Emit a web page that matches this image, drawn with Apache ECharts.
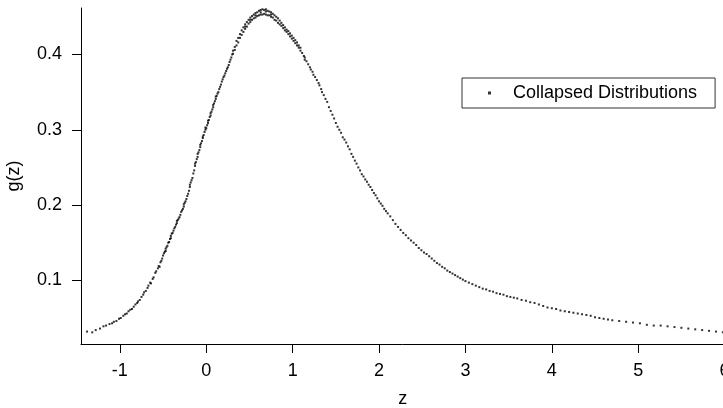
<!DOCTYPE html>
<html>
<head>
<meta charset="utf-8">
<script src="https://cdn.jsdelivr.net/npm/echarts@6/dist/echarts.min.js"></script>
<style>
  html, body { margin: 0; padding: 0; background: #fff; }
  #chart { width: 723px; height: 408px; }
</style>
</head>
<body>
<div id="chart"></div>
<script>
// points, [z, g(z)], grouped by part of the curve
const leftTail = [
  [-1.38, 0.032], [-1.32, 0.031], [-1.28, 0.034], [-1.23, 0.036], [-1.19, 0.039],
  [-1.16, 0.040], [-1.12, 0.042], [-1.09, 0.043], [-1.07, 0.045], [-1.04, 0.046],
  [-1.01, 0.049], [-0.99, 0.050], [-0.96, 0.053], [-0.94, 0.055], [-0.92, 0.056],
  [-0.90, 0.059], [-0.88, 0.061], [-0.86, 0.062], [-0.84, 0.065], [-0.82, 0.068],
  [-0.80, 0.070], [-0.79, 0.072], [-0.77, 0.074], [-0.75, 0.078], [-0.73, 0.081],
  [-0.72, 0.084], [-0.70, 0.086], [-0.68, 0.090], [-0.67, 0.093], [-0.65, 0.097],
  [-0.64, 0.096], [-0.62, 0.102], [-0.61, 0.104], [-0.59, 0.110], [-0.58, 0.112]
]
const rise = [
  [-0.56, 0.116], [-0.55, 0.119], [-0.54, 0.118], [-0.53, 0.124], [-0.52, 0.126],
  [-0.51, 0.129], [-0.50, 0.133], [-0.49, 0.136], [-0.48, 0.138], [-0.47, 0.142],
  [-0.47, 0.139], [-0.46, 0.144], [-0.45, 0.146], [-0.44, 0.150], [-0.43, 0.151],
  [-0.42, 0.155], [-0.41, 0.159], [-0.41, 0.156], [-0.40, 0.162], [-0.39, 0.163],
  [-0.38, 0.166], [-0.37, 0.169], [-0.36, 0.171], [-0.35, 0.174], [-0.34, 0.176],
  [-0.34, 0.179], [-0.33, 0.180], [-0.32, 0.182], [-0.31, 0.184], [-0.30, 0.187],
  [-0.29, 0.191], [-0.28, 0.193], [-0.27, 0.195], [-0.26, 0.198], [-0.26, 0.201],
  [-0.25, 0.203], [-0.24, 0.205], [-0.23, 0.208], [-0.22, 0.212], [-0.21, 0.215],
  [-0.20, 0.219], [-0.19, 0.224], [-0.19, 0.227], [-0.18, 0.230], [-0.17, 0.233],
  [-0.16, 0.236], [-0.15, 0.242], [-0.14, 0.246], [-0.13, 0.252], [-0.13, 0.255],
  [-0.12, 0.257], [-0.11, 0.261], [-0.10, 0.264], [-0.10, 0.268], [-0.09, 0.270],
  [-0.08, 0.273], [-0.07, 0.277], [-0.07, 0.280], [-0.06, 0.282], [-0.05, 0.285],
  [-0.04, 0.289], [-0.04, 0.291], [-0.03, 0.293], [-0.02, 0.297], [-0.01, 0.300],
  [-0.01, 0.303], [0.00, 0.302], [0.01, 0.306], [0.02, 0.309], [0.02, 0.312],
  [0.03, 0.313], [0.04, 0.317], [0.05, 0.319], [0.05, 0.322], [0.06, 0.324],
  [0.07, 0.327], [0.08, 0.330], [0.08, 0.333], [0.09, 0.335], [0.10, 0.338],
  [0.11, 0.341], [0.11, 0.344], [0.12, 0.345], [0.13, 0.348], [0.14, 0.350],
  [0.15, 0.354], [0.16, 0.357], [0.17, 0.360], [0.18, 0.364], [0.19, 0.367],
  [0.20, 0.370], [0.21, 0.372], [0.22, 0.375], [0.23, 0.378], [0.24, 0.381],
  [0.25, 0.383], [0.26, 0.386], [0.27, 0.390], [0.28, 0.393], [0.29, 0.396],
  [0.30, 0.400]
]
const peak = [
  [0.31, 0.401], [0.31, 0.405], [0.33, 0.406], [0.33, 0.410], [0.35, 0.412],
  [0.35, 0.418], [0.37, 0.416], [0.37, 0.422], [0.39, 0.422], [0.39, 0.427],
  [0.41, 0.426], [0.41, 0.432], [0.43, 0.430], [0.43, 0.436], [0.45, 0.434],
  [0.45, 0.440], [0.45, 0.437], [0.47, 0.437], [0.47, 0.443], [0.49, 0.441],
  [0.49, 0.446], [0.51, 0.443], [0.51, 0.449], [0.51, 0.446], [0.53, 0.446],
  [0.53, 0.451], [0.55, 0.448], [0.55, 0.453], [0.57, 0.449], [0.57, 0.455],
  [0.57, 0.452], [0.59, 0.451], [0.59, 0.456], [0.61, 0.452], [0.61, 0.458],
  [0.63, 0.453], [0.63, 0.459], [0.63, 0.456], [0.65, 0.453], [0.65, 0.460],
  [0.67, 0.454], [0.67, 0.459], [0.69, 0.453], [0.69, 0.460], [0.69, 0.457],
  [0.71, 0.452], [0.71, 0.458], [0.73, 0.452], [0.73, 0.457], [0.75, 0.450],
  [0.75, 0.456], [0.75, 0.453], [0.77, 0.449], [0.77, 0.454], [0.79, 0.446],
  [0.79, 0.452], [0.81, 0.445], [0.81, 0.450], [0.83, 0.442], [0.83, 0.448],
  [0.85, 0.440], [0.85, 0.445], [0.87, 0.438], [0.87, 0.442], [0.89, 0.435],
  [0.89, 0.439], [0.91, 0.432], [0.91, 0.436], [0.93, 0.430], [0.93, 0.433],
  [0.95, 0.427], [0.95, 0.431], [0.97, 0.424], [0.97, 0.428], [0.99, 0.421],
  [0.99, 0.425], [1.01, 0.418], [1.01, 0.422], [1.03, 0.415], [1.03, 0.419],
  [1.05, 0.412], [1.05, 0.416], [1.07, 0.409], [1.07, 0.412], [1.09, 0.405],
  [1.09, 0.409]
]
const fall = [
  [1.11, 0.402], [1.13, 0.398], [1.14, 0.396], [1.14, 0.393], [1.16, 0.391],
  [1.18, 0.387], [1.20, 0.383], [1.21, 0.380], [1.23, 0.377], [1.24, 0.373],
  [1.26, 0.370], [1.28, 0.366], [1.30, 0.362], [1.31, 0.359], [1.33, 0.354],
  [1.34, 0.350], [1.36, 0.346], [1.38, 0.341], [1.40, 0.337], [1.42, 0.330],
  [1.44, 0.325], [1.46, 0.320], [1.48, 0.315], [1.50, 0.309], [1.52, 0.304],
  [1.54, 0.300], [1.56, 0.296], [1.58, 0.290], [1.60, 0.287], [1.62, 0.283],
  [1.64, 0.278], [1.66, 0.274], [1.68, 0.268], [1.70, 0.264], [1.72, 0.259],
  [1.74, 0.255], [1.76, 0.250], [1.78, 0.246], [1.80, 0.241], [1.82, 0.238],
  [1.84, 0.234], [1.86, 0.231], [1.88, 0.227], [1.90, 0.224], [1.92, 0.220],
  [1.94, 0.216], [1.96, 0.213], [1.98, 0.209], [2.00, 0.205], [2.02, 0.202],
  [2.04, 0.199], [2.06, 0.195], [2.08, 0.192], [2.10, 0.189], [2.13, 0.185],
  [2.16, 0.180], [2.19, 0.175], [2.22, 0.171], [2.25, 0.167], [2.28, 0.163],
  [2.31, 0.160], [2.34, 0.156], [2.37, 0.153], [2.40, 0.150], [2.43, 0.147],
  [2.46, 0.143], [2.49, 0.140]
]
const rightTail = [
  [2.52, 0.137], [2.55, 0.135], [2.58, 0.132], [2.61, 0.129], [2.64, 0.126],
  [2.67, 0.123], [2.70, 0.121], [2.73, 0.118], [2.76, 0.116], [2.79, 0.113],
  [2.82, 0.111], [2.85, 0.109], [2.88, 0.107], [2.91, 0.105], [2.94, 0.103],
  [2.97, 0.101], [3.00, 0.099], [3.04, 0.097], [3.08, 0.095], [3.12, 0.093],
  [3.16, 0.091], [3.20, 0.089], [3.24, 0.088], [3.28, 0.086], [3.32, 0.085],
  [3.36, 0.083], [3.40, 0.082], [3.44, 0.081], [3.48, 0.079], [3.52, 0.078],
  [3.56, 0.077], [3.60, 0.076], [3.65, 0.074], [3.70, 0.073], [3.75, 0.071],
  [3.80, 0.070], [3.85, 0.068], [3.90, 0.066], [3.95, 0.064], [4.00, 0.063],
  [4.05, 0.062], [4.10, 0.060], [4.15, 0.059], [4.20, 0.058], [4.25, 0.057],
  [4.30, 0.056], [4.35, 0.055], [4.40, 0.054], [4.45, 0.053], [4.50, 0.051],
  [4.55, 0.050], [4.60, 0.049], [4.65, 0.048], [4.70, 0.047], [4.78, 0.046],
  [4.86, 0.045], [4.94, 0.044], [5.02, 0.043], [5.10, 0.041], [5.18, 0.040],
  [5.26, 0.040], [5.34, 0.039], [5.42, 0.038], [5.50, 0.037], [5.58, 0.036],
  [5.66, 0.035], [5.74, 0.034], [5.82, 0.033], [5.90, 0.032], [5.98, 0.031]
]

const xTicks = [-1, 0, 1, 2, 3, 4, 5, 6]
const yTicks = [0.1, 0.2, 0.3, 0.4]
const seriesName = 'Collapsed Distributions'

const points = [].concat(leftTail, rise, peak, fall, rightTail)

const font = 'Liberation Sans, Arial, sans-serif'
const chart = echarts.init(document.getElementById('chart'), null, { renderer: 'canvas' })

chart.setOption({
  animation: false,
  backgroundColor: '#fff',
  grid: { left: 81, right: -1.6, top: 8, bottom: 64, containLabel: false, outerBoundsMode: 'none' },
  legend: {
    left: 462,
    top: 78,
    orient: 'horizontal',
    icon: 'rect',
    itemWidth: 3,
    itemHeight: 3,
    padding: [6, 18, 6, 26],
    borderColor: '#333',
    borderWidth: 1,
    backgroundColor: '#fff',
    textStyle: { fontFamily: font, fontSize: 18, color: '#000', padding: [0, 0, 0, 17] },
    data: [seriesName]
  },
  xAxis: {
    type: 'value',
    min: -1.45,
    max: 6,
    name: 'z',
    nameLocation: 'middle',
    nameGap: 46,
    nameTextStyle: { fontFamily: font, fontSize: 18, color: '#000' },
    axisLine: { show: true, onZero: false, lineStyle: { color: '#000', width: 1 } },
    axisTick: { show: true, inside: false, length: 9, customValues: xTicks, lineStyle: { color: '#000' } },
    axisLabel: { margin: 18, fontFamily: font, fontSize: 18, color: '#000', customValues: xTicks },
    splitLine: { show: false }
  },
  yAxis: {
    type: 'value',
    min: 0.0155,
    max: 0.4617,
    name: 'g(z)',
    nameLocation: 'middle',
    nameGap: 58,
    nameTextStyle: { fontFamily: font, fontSize: 18, color: '#000' },
    axisLine: { show: true, onZero: false, lineStyle: { color: '#000', width: 1 } },
    axisTick: { show: true, inside: false, length: 9, customValues: yTicks, lineStyle: { color: '#000' } },
    axisLabel: { margin: 19, fontFamily: font, fontSize: 18, color: '#000', customValues: yTicks },
    splitLine: { show: false }
  },
  series: [
    {
      name: seriesName,
      type: 'scatter',
      symbol: 'rect',
      symbolSize: 2,
      itemStyle: { color: '#000' },
      data: points
    }
  ]
})
</script>
</body>
</html>
